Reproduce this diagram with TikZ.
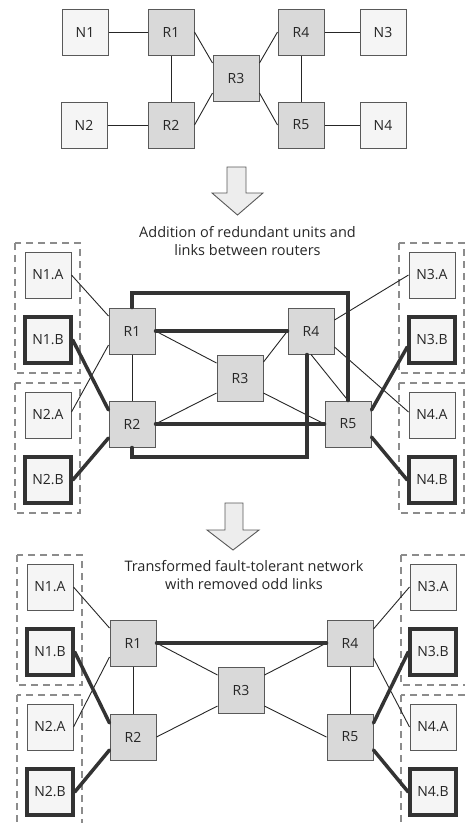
\documentclass[tikz,border=0pt]{standalone}
\usepackage{fontspec}
\setmainfont{Open Sans}
\definecolor{bord}{HTML}{595959}
\definecolor{thk}{HTML}{333333}
\definecolor{ln}{HTML}{262626}
\definecolor{hostfill}{HTML}{F5F5F5}
\definecolor{routerfill}{HTML}{D9D9D9}
\definecolor{grpc}{HTML}{8C8C8C}
\definecolor{arrfill}{HTML}{EDEDED}
\definecolor{arrdraw}{HTML}{595959}
\definecolor{txt}{HTML}{262626}
\tikzset{
 base/.style={draw=bord, line width=1pt, minimum size=46pt, inner sep=0pt, font=\fontsize{14}{17}\selectfont, text=txt},
 host/.style={base, fill=hostfill},
 hostb/.style={host, draw=thk, line width=3.5pt},
 router/.style={base, fill=routerfill},
 thin/.style={draw=ln, line width=0.9pt},
 thick/.style={draw=thk, line width=3.5pt, line cap=round},
 grp/.style={draw=grpc, line width=1.1pt, dash pattern=on 7pt off 5pt},
 bigarrow/.style={fill=arrfill, draw=arrdraw, line width=0.9pt},
 caption/.style={font=\fontsize{14.5}{18}\selectfont, align=center, text=txt, inner sep=0pt},
}
\begin{document}
\begin{tikzpicture}[x=1pt,y=-1pt]
\useasboundingbox (0,0) rectangle (465,823);
\clip (0,0) rectangle (465,823);

% ---------------- Section 1 ----------------
\node[host]   (aN1) at (85,32)  {N1};
\node[router] (aR1) at (171,32) {R1};
\node[router] (aR3) at (236,78) {R3};
\node[router] (aR4) at (301,32) {R4};
\node[host]   (aN3) at (383,32) {N3};
\node[host]   (aN2) at (84,125) {N2};
\node[router] (aR2) at (171,125) {R2};
\node[router] (aR5) at (301,125) {R5};
\node[host]   (aN4) at (383,125) {N4};
\draw[thin] (aN1.east) -- (aR1.west);
\draw[thin] (aN2.east) -- (aR2.west);
\draw[thin] (aR1.south) -- (aR2.north);
\draw[thin] (aR1.east) -- ([yshift=15pt]aR3.west);
\draw[thin] (aR2.east) -- ([yshift=-15pt]aR3.west);
\draw[thin] ([yshift=15pt]aR3.east) -- (aR4.west);
\draw[thin] ([yshift=-15pt]aR3.east) -- (aR5.west);
\draw[thin] (aR4.south) -- (aR5.north);
\draw[thin] (aR4.east) -- (aN3.west);
\draw[thin] (aR5.east) -- (aN4.west);

% arrow 1
\draw[bigarrow] (227,167) -- (246,167) -- (246,193) -- (263,193) -- (237.5,215) -- (212,193) -- (227,193) -- cycle;
\node[caption] (cap1) at (247.5,241) {Addition of redundant units and\\links between routers};

% ---------------- Section 2 ----------------
\draw[grp] (15,243) rectangle (80,373);
\draw[grp] (15,383) rectangle (80,513);
\draw[grp] (399,243) rectangle (464,373);
\draw[grp] (399,383) rectangle (464,513);

\node[host]   (bN1A) at (48,275) {N1.A};
\node[hostb]  (bN1B) at (48,340) {N1.B};
\node[host]   (bN2A) at (48,415) {N2.A};
\node[hostb]  (bN2B) at (48,480) {N2.B};
\node[router] (bR1) at (132,331) {R1};
\node[router] (bR2) at (132,424) {R2};
\node[router] (bR3) at (240,378) {R3};
\node[router] (bR4) at (311,331) {R4};
\node[router] (bR5) at (348,424) {R5};
\node[host]   (bN3A) at (432,275) {N3.A};
\node[hostb]  (bN3B) at (432,340) {N3.B};
\node[host]   (bN4A) at (432,415) {N4.A};
\node[hostb]  (bN4B) at (432,480) {N4.B};

\coordinate (btop) at (240,293);
\coordinate (bbot) at (220,457);

\draw[thin] (bN1A.east) -- ([yshift=15pt]bR1.west);
\draw[thin] ([yshift=3pt]bN2A.east) -- ([yshift=-14pt]bR1.west);
\draw[thin] (bR1.south) -- (bR2.north);
\draw[thin] (bR1.east) -- ([yshift=15pt]bR3.west);
\draw[thin] (bR2.east) -- ([yshift=-15pt]bR3.west);
\draw[thin] ([yshift=16pt]bR3.east) -- (bR4.west);
\draw[thin] ([yshift=-15pt]bR3.east) -- (bR5.west);
\draw[thin] (bR4.south) -- (bR5.north);
\draw[thin] ([yshift=11pt]bR4.east) -- (bN3A.west);
\draw[thin] ([yshift=-16pt]bR4.east) -- ([yshift=3pt]bN4A.west);

\draw[thick] (bN1B.east) -- ([yshift=14pt]bR2.west);
\draw[thick] (bN2B.east) -- ([yshift=-14pt]bR2.west);
\draw[thick] (bR1.east) -- (bR4.west);
\draw[thick] (bR1.north) |- (btop) -| (bR5.north);
\draw[thick] (bR2.east) -- (bR5.west);
\draw[thick] ([xshift=-4pt]bR4.south) |- (bbot) -| (bR2.south);
\fill[thk] (307,424) circle (2.6);
\draw[thick] ([yshift=14pt]bR5.east) -- ([yshift=-7pt]bN3B.west);
\draw[thick] ([yshift=-13pt]bR5.east) -- (bN4B.west);

% arrow 2
\draw[bigarrow] (225,503) -- (243,503) -- (243,530) -- (259,530) -- (233,550) -- (207,530) -- (225,530) -- cycle;
\node[caption] (cap2) at (244,575) {Transformed fault-tolerant network\\with removed odd links};

% ---------------- Section 3 ----------------
\draw[grp] (17,555) rectangle (82,685);
\draw[grp] (17,695) rectangle (82,830);
\draw[grp] (401,555) rectangle (466,685);
\draw[grp] (401,695) rectangle (466,830);

\node[host]   (cN1A) at (50,587) {N1.A};
\node[hostb]  (cN1B) at (50,652) {N1.B};
\node[host]   (cN2A) at (50,727) {N2.A};
\node[hostb]  (cN2B) at (50,792) {N2.B};
\node[router] (cR1) at (133,643) {R1};
\node[router] (cR2) at (133,737) {R2};
\node[router] (cR3) at (241,690) {R3};
\node[router] (cR4) at (350,643) {R4};
\node[router] (cR5) at (350,737) {R5};
\node[host]   (cN3A) at (433,587) {N3.A};
\node[hostb]  (cN3B) at (433,652) {N3.B};
\node[host]   (cN4A) at (433,727) {N4.A};
\node[hostb]  (cN4B) at (433,792) {N4.B};

\draw[thin] (cN1A.east) -- ([yshift=15pt]cR1.west);
\draw[thin] (cN2A.east) -- ([yshift=-14pt]cR1.west);
\draw[thin] (cR1.south) -- (cR2.north);
\draw[thin] (cR1.east) -- ([yshift=15pt]cR3.west);
\draw[thin] (cR2.east) -- ([yshift=-16pt]cR3.west);
\draw[thin] ([yshift=15pt]cR3.east) -- (cR4.west);
\draw[thin] ([yshift=-16pt]cR3.east) -- (cR5.west);
\draw[thin] (cR4.south) -- (cR5.north);
\draw[thin] ([yshift=14pt]cR4.east) -- (cN3A.west);
\draw[thin] ([yshift=-15pt]cR4.east) -- (cN4A.west);

\draw[thick] (cN1B.east) -- ([yshift=14pt]cR2.west);
\draw[thick] (cN2B.east) -- ([yshift=-13pt]cR2.west);
\draw[thick] (cR1.east) -- (cR4.west);
\draw[thick] ([yshift=14pt]cR5.east) -- (cN3B.west);
\draw[thick] ([yshift=-13pt]cR5.east) -- (cN4B.west);
\end{tikzpicture}
\end{document}
